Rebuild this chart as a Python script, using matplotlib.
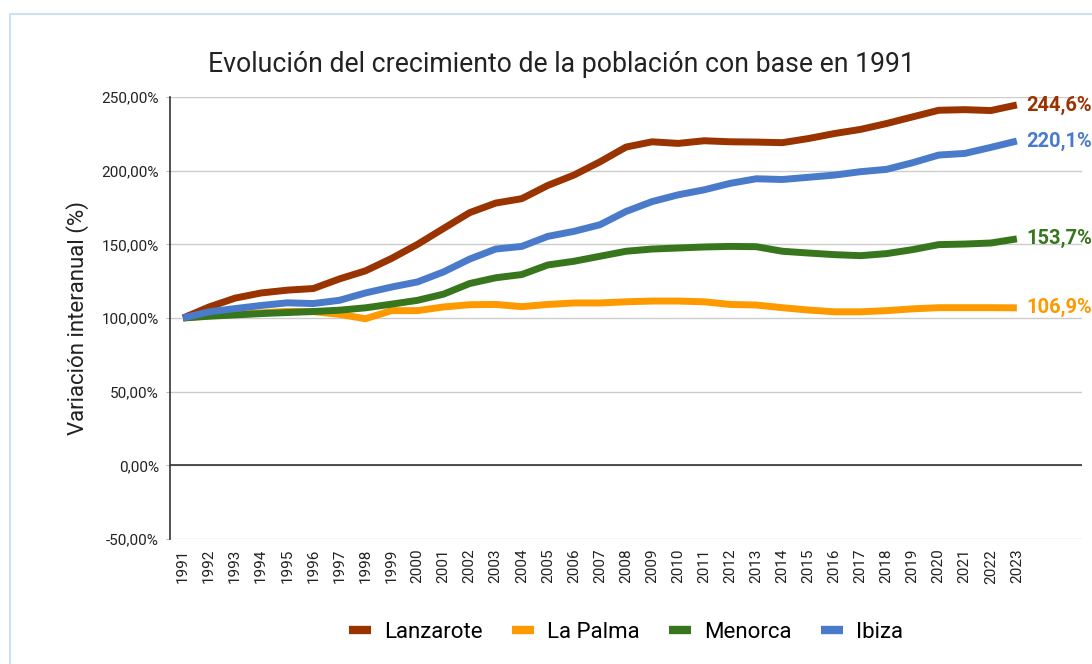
import matplotlib
matplotlib.use("Agg")
import matplotlib.pyplot as plt
from matplotlib.patches import Rectangle

years = [str(y) for y in range(1991, 2024)]

lanzarote = [100, 107.5, 113.5, 117, 118.9, 120, 126.5, 132, 140.4, 150, 160.8, 171.5,
             178, 181, 190, 197, 206, 216, 219.6, 218.5, 220.3, 219.6, 219.4, 219,
             221.8, 225.2, 228, 232, 236.5, 241, 241.4, 240.8, 244.6]
la_palma = [100, 101.5, 102.5, 103.5, 104.5, 104.3, 102.5, 99.5, 105, 105, 107.5, 109,
            109.2, 107.7, 109.2, 110.2, 110.2, 111, 111.5, 111.5, 111, 109.2, 108.8, 107,
            105.4, 104.2, 104.2, 105, 106.2, 107, 107, 107, 106.9]
menorca = [100, 101.2, 102.1, 103, 103.7, 104.4, 105.3, 106.9, 109.4, 112, 116.2, 123.4,
           127.3, 129.5, 136, 138.5, 141.9, 145.3, 146.8, 147.5, 148.2, 148.6, 148.4, 145.3,
           144.1, 143, 142.3, 143.7, 146.4, 149.8, 150.2, 150.9, 153.7]
ibiza = [100, 104.2, 106.4, 108.5, 110.3, 109.8, 112, 117, 121, 124.5, 131.3, 140,
         146.8, 148.6, 155.4, 158.8, 163.3, 172.3, 179, 183.6, 187, 191.4, 194.5, 194,
         195.5, 197, 199.3, 200.9, 205.4, 210.6, 211.7, 215.8, 220.1]

series_names = ["Lanzarote", "La Palma", "Menorca", "Ibiza"]
end_labels = ["244,6%", "106,9%", "153,7%", "220,1%"]
y_ticks = [-50, 0, 50, 100, 150, 200, 250]
y_tick_labels = ["-50,00%", "0,00%", "50,00%", "100,00%", "150,00%", "200,00%", "250,00%"]

colors = ["#993300", "#ff9900", "#38761d", "#4a7bcb"]

plt.rcParams["font.family"] = ["Roboto", "DejaVu Sans"]

fig = plt.figure(figsize=(10.92, 6.64), dpi=100)
fig.patches.append(Rectangle((10 / 1092, -0.1), 1.2, (664 - 14) / 664 + 0.1,
                             transform=fig.transFigure, fill=False,
                             edgecolor="#cfe2f3", linewidth=1.5, zorder=0))

ax = fig.add_axes([170 / 1092, 125 / 664, (1082 - 170) / 1092, (539 - 97) / 664])

x = list(range(len(years)))
data = [lanzarote, la_palma, menorca, ibiza]
z = [5, 3, 4, 6]
for name, vals, c, zz in zip(series_names, data, colors, z):
    ax.plot(x, vals, color=c, lw=5, solid_capstyle="butt", solid_joinstyle="round",
            label=name, zorder=zz)

for vals, c, lab in zip(data, colors, end_labels):
    ax.annotate(lab, xy=(x[-1], vals[-1]), xytext=(7, 0), textcoords="offset points",
                va="center", ha="left", color=c, fontsize=14.5, fontweight="bold",
                annotation_clip=False)

ax.set_xlim(-0.5, 34.5)
ax.set_ylim(-50, 250)
ax.set_yticks(y_ticks)
ax.set_yticklabels(y_tick_labels, fontsize=11, color="#222222")
ax.set_xticks(x)
ax.set_xticklabels(years, rotation=90, fontsize=11, color="#222222")
ax.tick_params(axis="x", length=0, pad=7)
ax.tick_params(axis="y", length=3, color="#bbbbbb", pad=5)
ax.grid(axis="y", color="#cccccc", lw=1)
ax.axhline(0, color="#333333", lw=1.2, zorder=2)
for s in ["top", "right", "bottom"]:
    ax.spines[s].set_visible(False)
ax.spines["left"].set_color("#333333")
ax.spines["left"].set_linewidth(1.2)
ax.set_axisbelow(True)

ax.set_ylabel("Variación interanual (%)", fontsize=16, color="#222222", labelpad=9)
fig.text(561 / 1092, 1 - 64 / 664, "Evolución del crecimiento de la población con base en 1991",
         ha="center", va="center", fontsize=19.2, color="#222222")

leg = fig.legend(loc="center", bbox_to_anchor=(626 / 1092, 1 - 632 / 664), ncol=4,
                 frameon=False, fontsize=16, handlelength=1.0, handletextpad=0.6,
                 columnspacing=1.3)
for h in leg.get_lines():
    h.set_linewidth(6)

fig.savefig("out.png", dpi=100)
